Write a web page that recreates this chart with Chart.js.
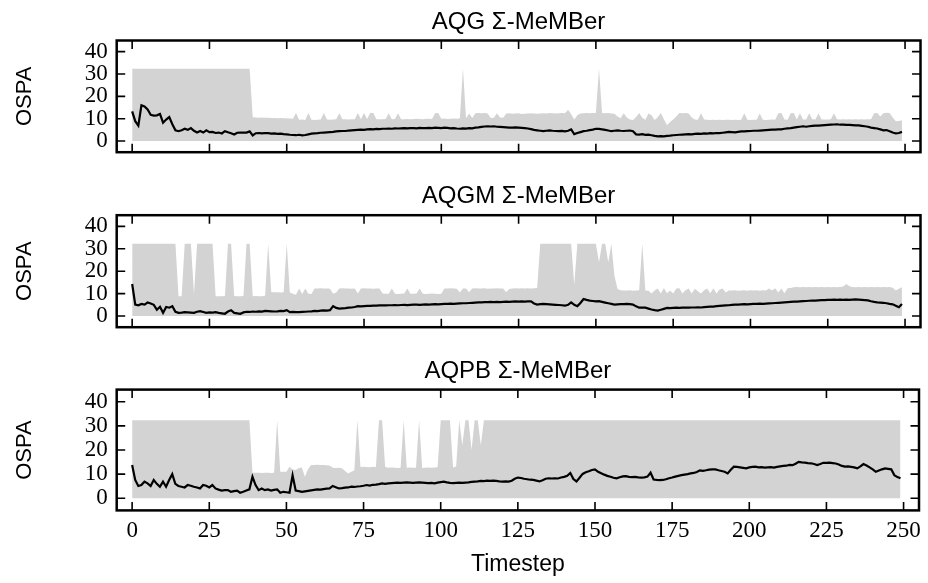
<!DOCTYPE html>
<html>
<head>
<meta charset="utf-8">
<script src="https://cdn.jsdelivr.net/npm/chart.js@4.4.1/dist/chart.umd.min.js"></script>
<style>
  html, body { margin: 0; padding: 0; background: #fff; }
  #wrap { position: relative; width: 928px; height: 583px; overflow: hidden; }
  #wrap canvas { position: absolute; left: 0; }
</style>
</head>
<body>
<div id="wrap">
  <canvas id="aqg" width="928" height="175" style="top:0px"></canvas>
  <canvas id="aqgm" width="928" height="175" style="top:175px"></canvas>
  <canvas id="aqpb" width="928" height="233" style="top:350px"></canvas>
</div>
<script>
// x categories (timestep index) and tick labels
const timesteps = Array.from({ length: 250 }, (_, i) => i);
const xTicks = [0, 25, 50, 75, 100, 125, 150, 175, 200, 225, 250];
const yTicks = [0, 10, 20, 30, 40];

// AQG Σ-MeMBer : mean OSPA and upper edge of the shaded band
const aqgMean = [
  13.3, 8.9, 6.9, 16.0, 15.5, 14.1, 11.7, 11.4, 11.5, 12.1,
  8.2, 9.6, 10.7, 7.5, 4.8, 4.4, 4.8, 5.5, 5.0, 5.8,
  4.6, 3.8, 4.5, 3.8, 4.8, 4.0, 4.1, 3.6, 3.8, 3.4,
  4.4, 3.9, 3.5, 2.9, 3.7, 3.8, 3.8, 3.8, 4.3, 2.5,
  3.5, 3.6, 3.4, 3.6, 3.5, 3.3, 3.4, 3.2, 3.3, 3.1,
  3.0, 2.8, 2.7, 2.6, 2.8, 2.5, 2.7, 3.0, 3.3, 3.4,
  3.5, 3.7, 3.8, 3.9, 4.0, 4.1, 4.3, 4.4, 4.5, 4.5,
  4.7, 4.8, 4.9, 5.0, 5.1, 5.0, 5.2, 5.3, 5.2, 5.4,
  5.3, 5.5, 5.5, 5.6, 5.5, 5.7, 5.6, 5.7, 5.8, 5.7,
  5.8, 5.8, 5.7, 5.9, 5.8, 5.8, 5.9, 5.8, 6.0, 5.9,
  5.8, 6.0, 5.9, 5.7, 5.8, 5.6, 5.5, 5.7, 5.6, 5.8,
  5.7, 6.0, 6.1, 6.3, 6.5, 6.6, 6.5, 6.6, 6.4, 6.3,
  6.2, 6.1, 6.0, 6.0, 6.1, 6.0, 5.9, 5.8, 5.6, 5.3,
  5.0, 4.8, 4.6, 4.4, 4.6, 4.8, 4.6, 4.5, 4.4, 4.5,
  4.3, 4.6, 5.2, 3.1, 3.6, 4.0, 4.4, 4.6, 4.9, 5.1,
  5.5, 5.4, 5.2, 5.0, 4.7, 4.4, 4.6, 4.8, 4.6, 4.5,
  4.6, 4.7, 4.4, 3.0, 2.9, 3.1, 2.8, 2.9, 2.6, 2.3,
  2.1, 2.2, 2.1, 2.3, 2.4, 2.6, 2.7, 2.8, 2.9, 3.0,
  3.1, 3.0, 3.2, 3.3, 3.2, 3.4, 3.3, 3.5, 3.4, 3.6,
  3.5, 3.7, 3.9, 4.1, 4.0, 3.9, 4.1, 4.3, 4.3, 4.4,
  4.5, 4.6, 4.6, 4.7, 4.8, 4.9, 5.0, 5.1, 5.1, 5.2,
  5.2, 5.5, 5.7, 5.8, 6.0, 6.2, 6.4, 6.6, 6.4, 6.6,
  6.8, 6.9, 6.9, 7.0, 7.1, 7.2, 7.3, 7.4, 7.5, 7.3,
  7.3, 7.2, 7.2, 7.1, 7.0, 7.0, 6.8, 6.6, 6.4, 6.0,
  5.8, 5.6, 5.2, 4.8, 4.9, 4.4, 3.8, 3.4, 3.6, 4.1
];
const aqgUpper = [
  32.3, 32.3, 32.3, 32.3, 32.3, 32.3, 32.3, 32.3, 32.3, 32.3,
  32.3, 32.3, 32.3, 32.3, 32.3, 32.3, 32.3, 32.3, 32.3, 32.3,
  32.3, 32.3, 32.3, 32.3, 32.3, 32.3, 32.3, 32.3, 32.3, 32.3,
  32.3, 32.3, 32.3, 32.3, 32.3, 32.3, 32.3, 32.3, 32.3, 10.6,
  10.5, 10.4, 10.5, 10.4, 10.4, 10.3, 10.3, 10.2, 10.3, 10.2,
  10.2, 10.1, 10.0, 12.6, 9.5, 9.6, 9.4, 12.6, 9.5, 9.4,
  9.5, 9.6, 12.5, 9.6, 9.5, 9.6, 9.7, 12.4, 9.8, 9.7,
  9.6, 9.8, 9.7, 12.6, 9.8, 12.5, 9.9, 12.6, 12.5, 9.8,
  9.7, 9.8, 9.9, 12.4, 9.8, 9.9, 12.4, 9.8, 9.8, 9.9,
  9.8, 9.9, 10.0, 9.9, 9.8, 10.0, 10.0, 9.9, 12.4, 12.5,
  10.0, 10.1, 9.9, 10.0, 10.1, 10.0, 10.2, 32.3, 10.2, 12.3,
  10.3, 12.4, 12.5, 12.4, 12.5, 12.3, 10.3, 10.4, 12.4, 10.5,
  10.4, 12.3, 12.4, 12.2, 12.3, 12.4, 12.1, 12.2, 12.3, 12.4,
  12.3, 12.2, 12.3, 12.4, 12.3, 12.5, 12.4, 12.3, 12.4, 12.5,
  12.4, 14.0, 12.0, 9.6, 11.5, 12.3, 12.4, 12.5, 12.4, 12.6,
  12.5, 32.3, 12.5, 12.4, 12.5, 12.3, 12.2, 11.0, 10.2, 12.4,
  10.5, 9.6, 9.4, 10.8, 12.5, 10.4, 9.5, 12.3, 11.5, 9.4,
  10.6, 12.6, 9.8, 7.1, 8.5, 9.6, 11.0, 12.5, 12.4, 12.5,
  12.3, 10.5, 9.6, 9.5, 12.4, 9.6, 9.5, 9.4, 9.5, 9.4,
  9.5, 9.4, 9.5, 9.5, 9.4, 9.5, 9.4, 9.5, 12.4, 9.5,
  9.4, 9.5, 9.5, 12.3, 9.5, 9.4, 9.5, 9.6, 9.5, 12.4,
  12.5, 9.6, 9.5, 12.4, 12.5, 9.6, 12.4, 9.6, 9.6, 12.4,
  9.7, 9.6, 12.3, 9.6, 9.6, 9.6, 9.7, 12.4, 9.7, 9.6,
  9.7, 9.6, 9.7, 9.6, 9.7, 9.6, 9.7, 9.6, 9.7, 9.8,
  12.4, 12.6, 11.0, 12.4, 12.7, 12.5, 10.5, 8.9, 9.0, 9.3
];

// AQGM Σ-MeMBer
const aqgmMean = [
  14.3, 5.1, 4.8, 5.4, 5.1, 6.0, 5.6, 5.0, 2.8, 4.1,
  1.4, 4.0, 3.7, 4.4, 1.9, 1.4, 1.5, 1.7, 1.6, 1.5,
  1.4, 1.9, 2.2, 1.8, 1.4, 1.6, 1.5, 1.7, 1.4, 1.2,
  1.0, 2.0, 2.6, 1.4, 1.2, 1.0, 1.6, 1.9, 1.8, 2.0,
  1.9, 2.1, 2.0, 2.3, 2.2, 2.1, 2.0, 2.1, 2.3, 2.2,
  2.6, 1.7, 1.8, 1.7, 1.7, 1.8, 1.9, 2.0, 2.1, 2.3,
  2.2, 2.4, 2.5, 2.4, 2.6, 4.4, 3.6, 3.3, 3.4, 3.5,
  3.7, 3.8, 4.0, 4.4, 4.3, 4.4, 4.5, 4.5, 4.6, 4.6,
  4.7, 4.7, 4.7, 4.8, 4.8, 4.9, 4.8, 4.9, 5.0, 4.9,
  5.0, 5.1, 5.1, 5.0, 5.1, 5.2, 5.1, 5.2, 5.3, 5.2,
  5.3, 5.4, 5.4, 5.5, 5.4, 5.5, 5.6, 5.7, 5.7, 5.8,
  5.9, 6.0, 6.1, 6.1, 6.2, 6.2, 6.3, 6.2, 6.3, 6.2,
  6.3, 6.4, 6.3, 6.4, 6.5, 6.4, 6.5, 6.4, 6.5, 6.5,
  5.6, 5.1, 5.3, 5.4, 5.3, 5.2, 5.1, 5.0, 4.9, 4.8,
  4.6, 5.0, 6.1, 5.0, 4.4, 5.8, 7.6, 7.2, 6.9, 6.7,
  6.5, 6.6, 6.3, 6.0, 5.7, 5.4, 5.1, 5.2, 5.3, 5.3,
  5.4, 5.3, 5.1, 4.3, 3.7, 3.8, 3.7, 3.3, 2.9, 2.6,
  2.4, 2.8, 3.2, 3.6, 3.5, 3.6, 3.7, 3.6, 3.7, 3.8,
  3.7, 3.8, 3.8, 3.9, 3.8, 4.0, 4.1, 4.2, 4.2, 4.4,
  4.5, 4.6, 4.7, 4.8, 5.0, 5.1, 5.1, 5.2, 5.3, 5.2,
  5.3, 5.4, 5.4, 5.5, 5.4, 5.5, 5.6, 5.7, 5.8, 5.9,
  6.0, 6.1, 6.2, 6.3, 6.4, 6.4, 6.5, 6.6, 6.7, 6.8,
  6.9, 6.9, 7.0, 7.1, 7.1, 7.2, 7.2, 7.3, 7.2, 7.3,
  7.2, 7.3, 7.2, 7.3, 7.4, 7.3, 7.2, 7.1, 7.0, 6.6,
  6.3, 6.1, 6.0, 5.9, 5.7, 5.4, 5.2, 4.6, 3.9, 5.4
];
const aqgmUpper = [
  32.3, 32.3, 32.3, 32.3, 32.3, 32.3, 32.3, 32.3, 32.3, 32.3,
  32.3, 32.3, 32.3, 32.3, 32.3, 8.8, 8.8, 32.3, 32.3, 32.3,
  9.9, 32.3, 32.3, 32.3, 32.3, 32.3, 32.3, 8.8, 8.8, 8.8,
  8.9, 32.3, 32.3, 8.9, 8.8, 8.8, 8.9, 32.3, 32.3, 8.8,
  8.9, 8.8, 8.8, 9.0, 32.3, 10.6, 10.6, 10.6, 10.5, 10.6,
  32.3, 10.5, 9.9, 9.5, 12.3, 9.8, 12.3, 9.9, 9.8, 12.3,
  12.3, 12.4, 12.3, 12.3, 12.2, 9.9, 10.5, 12.3, 12.4, 12.3,
  12.3, 12.2, 12.3, 10.0, 12.3, 12.4, 12.3, 12.3, 12.2, 12.3,
  12.3, 10.0, 9.9, 9.9, 12.3, 9.9, 9.8, 9.9, 10.0, 12.3,
  9.9, 9.9, 10.0, 12.3, 9.9, 9.8, 9.9, 10.0, 9.9, 9.8,
  9.9, 12.3, 12.3, 12.4, 12.3, 12.2, 10.5, 12.3, 12.3, 10.6,
  12.3, 12.4, 12.3, 12.3, 12.4, 12.2, 12.3, 12.3, 12.4, 12.3,
  12.3, 10.6, 12.0, 12.3, 12.4, 12.3, 12.4, 12.3, 12.4, 12.3,
  12.4, 12.5, 32.3, 32.3, 32.3, 32.3, 32.3, 32.3, 32.3, 32.3,
  32.3, 32.3, 32.3, 14.0, 32.3, 32.3, 32.3, 32.3, 32.3, 32.3,
  32.3, 24.0, 32.3, 32.3, 24.0, 32.3, 18.0, 12.0, 11.5, 11.4,
  11.4, 11.5, 11.3, 11.4, 11.5, 32.3, 11.4, 11.3, 10.0, 11.4,
  12.3, 10.0, 12.5, 10.2, 11.4, 10.0, 12.3, 12.4, 10.0, 11.5,
  12.3, 10.0, 12.2, 11.0, 10.0, 11.5, 12.3, 10.2, 12.4, 10.0,
  11.8, 12.3, 10.5, 11.4, 11.4, 11.5, 11.3, 11.4, 11.5, 11.3,
  11.5, 11.4, 11.5, 11.3, 11.5, 11.4, 12.3, 11.4, 12.4, 10.5,
  12.3, 10.2, 12.4, 12.5, 12.8, 12.9, 12.8, 12.9, 12.8, 12.9,
  12.8, 12.9, 12.8, 12.9, 12.8, 12.9, 12.8, 12.9, 12.8, 13.0,
  13.2, 14.3, 13.3, 12.9, 12.8, 12.9, 12.8, 12.9, 12.8, 12.9,
  12.8, 12.9, 12.8, 12.9, 12.8, 12.9, 12.6, 11.4, 12.2, 12.8
];

// AQPB Σ-MeMBer
const aqpbMean = [
  13.8, 7.6, 5.1, 5.5, 6.9, 6.2, 5.1, 7.6, 6.0, 4.8,
  6.9, 4.8, 7.6, 10.0, 6.0, 5.1, 4.8, 4.5, 5.5, 5.2,
  4.8, 4.5, 4.1, 5.5, 5.2, 4.5, 5.5, 4.1, 3.6, 3.2,
  3.4, 3.4, 2.7, 3.0, 3.2, 2.3, 2.7, 3.2, 3.7, 8.9,
  5.5, 3.4, 4.1, 3.4, 3.7, 3.2, 3.5, 3.7, 2.3, 2.7,
  2.5, 2.3, 9.5, 3.2, 3.0, 2.7, 2.9, 3.1, 3.3, 3.5,
  3.7, 3.6, 3.8, 4.0, 4.1, 5.1, 4.6, 4.1, 4.2, 4.4,
  4.5, 4.8, 4.7, 4.9, 5.0, 5.2, 5.5, 5.3, 5.6, 5.7,
  5.9, 6.2, 6.0, 6.2, 6.3, 6.4, 6.5, 6.4, 6.5, 6.6,
  6.5, 6.4, 6.5, 6.6, 6.5, 6.4, 6.3, 6.4, 6.2, 6.5,
  6.7, 6.9, 6.6, 6.4, 6.3, 6.4, 6.5, 6.4, 6.5, 6.6,
  6.8, 6.9, 7.0, 7.2, 7.1, 7.3, 7.2, 7.3, 7.2, 7.0,
  6.9, 7.0, 6.9, 7.3, 8.1, 8.6, 8.4, 8.1, 7.9, 7.7,
  7.6, 7.3, 7.0, 7.5, 8.1, 8.3, 8.2, 8.3, 8.2, 8.6,
  8.9, 9.3, 10.5, 8.0, 7.0, 8.5, 10.1, 10.8, 11.2, 11.7,
  12.0, 11.0, 10.4, 9.8, 9.3, 8.9, 8.5, 8.3, 8.7, 9.1,
  9.2, 8.9, 8.8, 8.9, 8.7, 8.6, 8.7, 9.0, 10.6, 7.8,
  7.6, 7.5, 7.6, 7.9, 8.3, 8.6, 9.0, 9.3, 9.6, 9.8,
  10.0, 10.3, 10.5, 10.9, 11.6, 11.4, 11.6, 11.9, 12.0, 12.0,
  11.6, 11.3, 11.0, 10.3, 11.8, 13.1, 13.0, 12.8, 12.6, 12.4,
  12.8, 13.0, 13.1, 12.8, 12.9, 12.7, 12.8, 12.9, 12.7, 13.0,
  13.2, 13.4, 13.5, 13.8, 13.7, 14.3, 15.1, 14.9, 14.8, 14.6,
  14.5, 14.2, 13.8, 14.2, 14.7, 14.7, 14.8, 14.6, 14.4, 14.0,
  13.4, 13.1, 13.2, 13.0, 12.8, 12.4, 13.2, 14.2, 13.6, 12.8,
  12.0, 11.0, 11.5, 12.0, 12.4, 12.2, 12.0, 9.6, 8.8, 8.3
];
const aqpbUpper = [
  32.3, 32.3, 32.3, 32.3, 32.3, 32.3, 32.3, 32.3, 32.3, 32.3,
  32.3, 32.3, 32.3, 32.3, 32.3, 32.3, 32.3, 32.3, 32.3, 32.3,
  32.3, 32.3, 32.3, 32.3, 32.3, 32.3, 32.3, 32.3, 32.3, 32.3,
  32.3, 32.3, 32.3, 32.3, 32.3, 32.3, 32.3, 32.3, 32.3, 10.6,
  10.6, 10.6, 10.5, 10.6, 10.6, 10.5, 10.6, 32.3, 11.0, 11.0,
  11.0, 13.1, 11.9, 11.7, 12.5, 12.8, 8.9, 12.0, 13.8, 13.8,
  13.9, 13.8, 13.8, 13.7, 13.6, 12.7, 12.6, 12.7, 12.4, 11.3,
  10.3, 11.0, 11.5, 32.3, 13.0, 13.1, 13.0, 12.9, 13.1, 13.0,
  32.3, 32.3, 13.0, 12.7, 12.8, 12.7, 12.6, 12.7, 32.3, 12.7,
  12.8, 12.7, 12.7, 32.3, 12.6, 12.7, 12.8, 12.7, 12.8, 12.9,
  32.3, 32.3, 32.3, 32.3, 12.8, 13.2, 32.3, 22.0, 32.3, 32.3,
  20.0, 32.3, 32.3, 22.0, 32.3, 32.3, 32.3, 32.3, 32.3, 32.3,
  32.3, 32.3, 32.3, 32.3, 32.3, 32.3, 32.3, 32.3, 32.3, 32.3,
  32.3, 32.3, 32.3, 32.3, 32.3, 32.3, 32.3, 32.3, 32.3, 32.3,
  32.3, 32.3, 32.3, 32.3, 32.3, 32.3, 32.3, 32.3, 32.3, 32.3,
  32.3, 32.3, 32.3, 32.3, 32.3, 32.3, 32.3, 32.3, 32.3, 32.3,
  32.3, 32.3, 32.3, 32.3, 32.3, 32.3, 32.3, 32.3, 32.3, 32.3,
  32.3, 32.3, 32.3, 32.3, 32.3, 32.3, 32.3, 32.3, 32.3, 32.3,
  32.3, 32.3, 32.3, 32.3, 32.3, 32.3, 32.3, 32.3, 32.3, 32.3,
  32.3, 32.3, 32.3, 32.3, 32.3, 32.3, 32.3, 32.3, 32.3, 32.3,
  32.3, 32.3, 32.3, 32.3, 32.3, 32.3, 32.3, 32.3, 32.3, 32.3,
  32.3, 32.3, 32.3, 32.3, 32.3, 32.3, 32.3, 32.3, 32.3, 32.3,
  32.3, 32.3, 32.3, 32.3, 32.3, 32.3, 32.3, 32.3, 32.3, 32.3,
  32.3, 32.3, 32.3, 32.3, 32.3, 32.3, 32.3, 32.3, 32.3, 32.3,
  32.3, 32.3, 32.3, 32.3, 32.3, 32.3, 32.3, 32.3, 32.3, 32.3
];

const SANS = "'Liberation Sans', Arial, sans-serif";
const SERIF = "'Liberation Serif', 'DejaVu Serif', serif";

// frame round the plot area plus inward ticks on all four sides
const frameTicks = {
  id: 'frameTicks',
  afterDatasetsDraw(chart) {
    const { ctx, chartArea: a, scales: { x, y } } = chart;
    const len = 8.5;
    ctx.save();
    ctx.strokeStyle = '#000';
    ctx.lineWidth = 1.6;
    ctx.beginPath();
    x.ticks.forEach(t => {
      const px = x.getPixelForValue(t.value);
      ctx.moveTo(px, a.bottom); ctx.lineTo(px, a.bottom - len);
      ctx.moveTo(px, a.top); ctx.lineTo(px, a.top + len);
    });
    y.ticks.forEach(t => {
      const py = y.getPixelForValue(t.value);
      ctx.moveTo(a.left, py); ctx.lineTo(a.left + len, py);
      ctx.moveTo(a.right, py); ctx.lineTo(a.right - len, py);
    });
    ctx.stroke();
    ctx.lineWidth = 2.5;
    ctx.strokeRect(a.left, a.top, a.right - a.left, a.bottom - a.top);
    ctx.restore();
  }
};

function panel(id, title, mean, upper, opt) {
  const pts = arr => arr.map((v, i) => ({ x: timesteps[i], y: v }));
  new Chart(document.getElementById(id), {
    type: 'line',
    data: {
      datasets: [
        {
          label: 'mean',
          data: pts(mean),
          borderColor: '#000',
          borderWidth: 2.2,
          pointRadius: 0,
          tension: 0,
          fill: false,
          order: 0
        },
        {
          label: 'band',
          data: pts(upper),
          borderColor: 'rgba(0,0,0,0)',
          borderWidth: 0,
          backgroundColor: '#d3d3d3',
          pointRadius: 0,
          tension: 0,
          fill: { value: 0 },
          order: 1
        }
      ]
    },
    options: {
      responsive: false,
      animation: false,
      events: [],
      layout: { padding: { top: opt.top, right: 7.5, left: 0, bottom: 0 } },
      plugins: {
        legend: { display: false },
        tooltip: { enabled: false },
        title: {
          display: true,
          fullSize: false,
          text: title,
          color: '#000',
          font: { family: SANS, size: 24, weight: 'normal', lineHeight: 1 },
          padding: { top: 0, bottom: 6.5 }
        }
      },
      scales: {
        x: {
          type: 'linear',
          min: -5,
          max: 255,
          afterBuildTicks: s => { s.ticks = xTicks.map(v => ({ value: v })); },
          afterFit: s => { s.height = opt.xHeight; },
          grid: { display: false, drawTicks: false },
          border: { display: false },
          ticks: {
            display: opt.showX,
            autoSkip: false,
            maxRotation: 0,
            padding: 7,
            color: '#000',
            font: { family: SERIF, size: 23 }
          },
          title: {
            display: opt.showX,
            text: 'Timestep',
            color: '#000',
            font: { family: SANS, size: 23 },
            padding: { top: 0, bottom: 5 }
          }
        },
        y: {
          min: -5,
          max: 45,
          afterBuildTicks: s => { s.ticks = yTicks.map(v => ({ value: v })); },
          afterFit: s => { s.width = 116.7; },
          grid: { display: false, drawTicks: false },
          border: { display: false },
          ticks: {
            autoSkip: false,
            padding: 9,
            color: '#000',
            font: { family: SERIF, size: 23 }
          },
          title: {
            display: true,
            text: 'OSPA',
            color: '#000',
            font: { family: SANS, size: 22 },
            padding: { top: 11.5, bottom: 0 }
          }
        }
      }
    },
    plugins: [frameTicks]
  });
}

panel('aqg', 'AQG Σ-MeMBer', aqgMean, aqgUpper, { top: 10, xHeight: 12.8, showX: false });
panel('aqgm', 'AQGM Σ-MeMBer', aqgmMean, aqgmUpper, { top: 9.7, xHeight: 13.9, showX: false });
panel('aqpb', 'AQPB Σ-MeMBer', aqpbMean, aqpbUpper, { top: 9.1, xHeight: 72.6, showX: true });
</script>
</body>
</html>
